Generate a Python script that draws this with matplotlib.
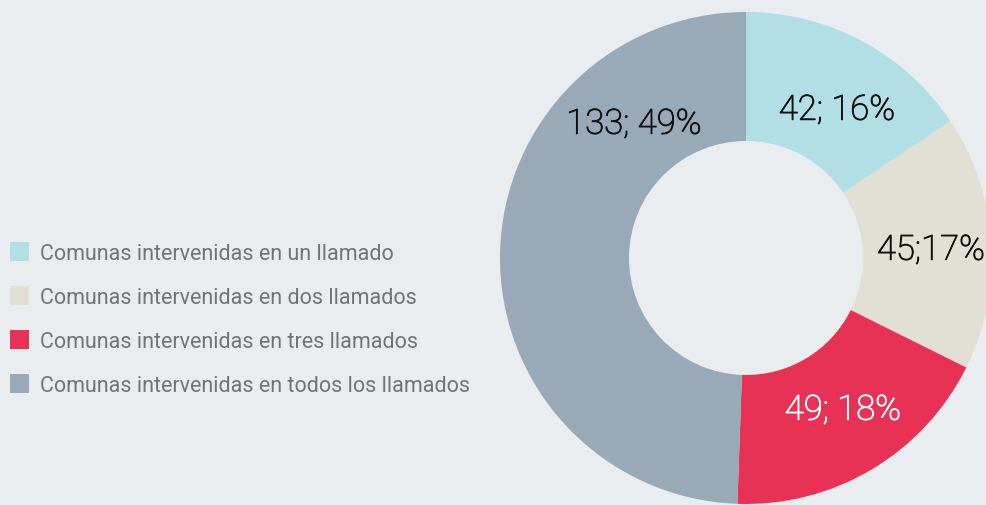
import matplotlib
matplotlib.use("Agg")
import matplotlib.pyplot as plt
import matplotlib.patheffects as pe
from matplotlib.patches import Rectangle

categories = [
    "Comunas intervenidas en un llamado",
    "Comunas intervenidas en dos llamados",
    "Comunas intervenidas en tres llamados",
    "Comunas intervenidas en todos los llamados",
]
values = [42, 45, 49, 133]
value_labels = ["42; 16%", "45;17%", "49; 18%", "133; 49%"]
colors = ["#b2dee5", "#e2e0d4", "#e83255", "#98a9b8"]
label_colors = ["#111111", "#111111", "#ffffff", "#111111"]
label_pos = [(837, 111), (931, 251), (843, 411), (634, 125)]

BG = "#e9edf0"
W, H = 986, 506
fig = plt.figure(figsize=(W / 100, H / 100), dpi=100, facecolor=BG)
ax = fig.add_axes([0, 0, 1, 1])
ax.set_facecolor(BG)

cx, cy, R, r = 746, 259, 246, 117
wedges, _ = ax.pie(values, colors=colors, startangle=90, counterclock=False,
                   radius=R, center=(cx, H - cy), frame=True,
                   wedgeprops=dict(width=R - r, linewidth=0))
ax.set_xlim(0, W)
ax.set_ylim(0, H)
ax.set_aspect("equal")
ax.axis("off")

for (x, y), t, c in zip(label_pos, value_labels, label_colors):
    ax.text(x, H - y, t, ha="center", va="center", fontsize=25, color=c,
            family="Roboto", fontweight="light",
            path_effects=[pe.withStroke(linewidth=0.7, foreground=c)])

for i, (cat, col) in enumerate(zip(categories, colors)):
    yc = 252.5 + 44 * i
    ax.add_patch(Rectangle((10, H - yc - 9.5), 19, 19, facecolor=col, edgecolor="none"))
    ax.text(40, H - yc - 2, cat, ha="left", va="center", fontsize=15.5, color="#737373",
            family="Roboto", fontweight="normal")

fig.savefig("out.png", dpi=100, facecolor=BG)
